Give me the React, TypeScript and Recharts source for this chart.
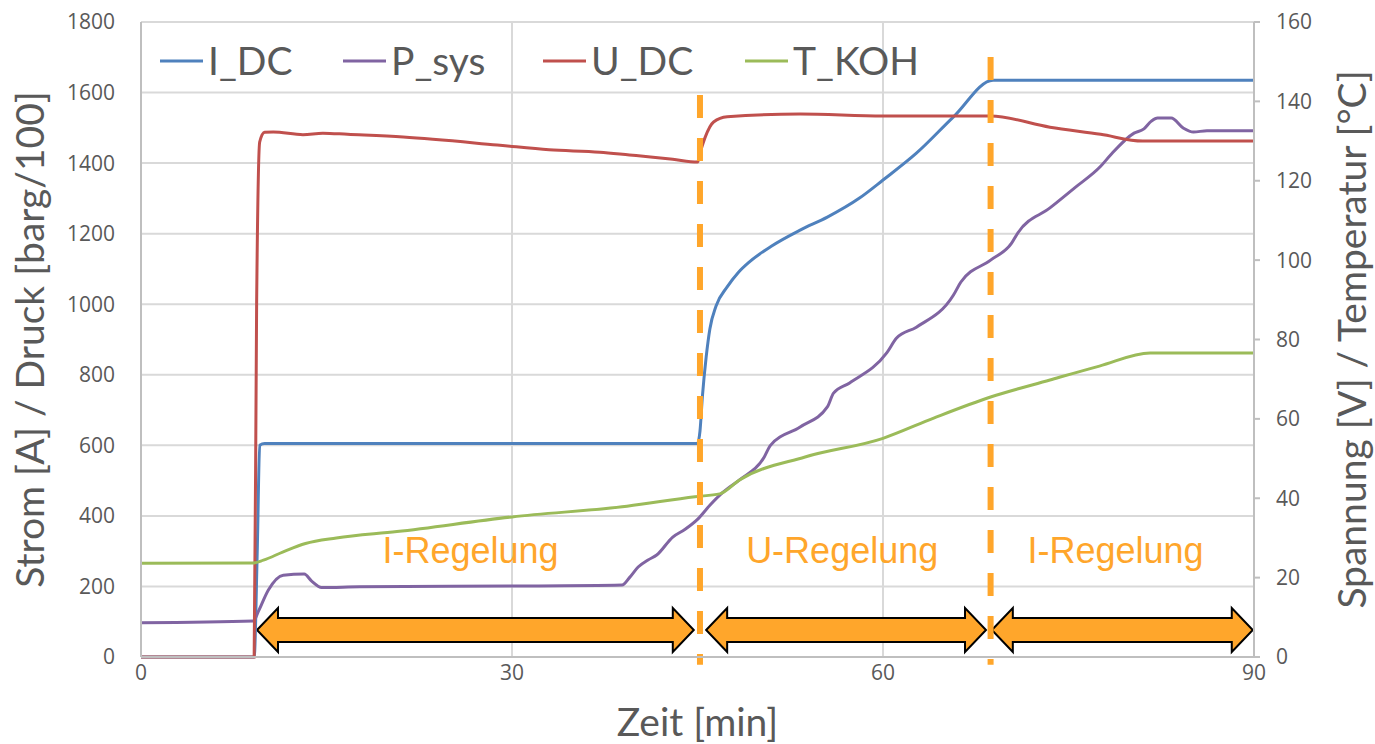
import React from 'react'
import {
  ComposedChart,
  Line,
  XAxis,
  YAxis,
  CartesianGrid,
  Legend,
  ReferenceLine,
  ReferenceArea,
  ReferenceDot
} from 'recharts'

// I_DC [A]
const iDcTime = [0, 9.15, 9.4, 9.6, 10, 45.0, 45.2, 45.4, 45.7, 46.0, 46.5, 47.4, 48.3, 49.2, 51, 53.3, 55.5, 58.1, 60, 62.7, 65.7, 68.9, 90]
const iDcValue = [0, 0, 300, 600, 605, 605, 640, 740, 850, 930, 995, 1049, 1090, 1120, 1165, 1210, 1247, 1301, 1352, 1428, 1531, 1635, 1635]

// P_sys [barg/100]
const pSysTime = [0, 9.1, 9.5, 10.3, 11.5, 13.2, 13.8, 14.6, 17.7, 30, 38.9, 39.5, 40.2, 41.0, 41.7, 43.0, 44.0, 45.0, 46.0, 47.0, 48.4, 50.4, 50.9, 53.3, 55.5, 56.0, 57.3, 60.3, 61.1, 62.7, 65.7, 66.3, 68.7, 70.4, 70.9, 73.5, 75.5, 77.6, 78.4, 80.3, 81.1, 81.7, 82.2, 83.3, 84.3, 85.1, 86.2, 90]
const pSysValue = [97, 102, 130, 190, 232, 235, 215, 197, 199, 201, 204, 225, 255, 275, 289, 340, 362, 390, 430, 465, 502, 567, 600, 652, 709, 748, 777, 862, 904, 935, 1026, 1063, 1125, 1173, 1202, 1273, 1330, 1391, 1423, 1485, 1497, 1519, 1528, 1528, 1499, 1488, 1492, 1492]

// U_DC [V]
const uDcTime = [0, 9.15, 9.35, 9.6, 10.0, 10.7, 13.1, 14.7, 16.7, 21.2, 28.8, 33, 37.1, 39.5, 41.2, 43.0, 45.0, 45.3, 45.6, 46.3, 47.4, 53.3, 60, 68.7, 73.5, 77.6, 81.0, 90]
const uDcValue = [0, 0, 88.9, 129.8, 132.2, 132.3, 131.6, 132.0, 131.7, 131.0, 129.0, 127.8, 127.2, 126.5, 126.0, 125.4, 124.7, 128.0, 130.8, 134.8, 136.1, 136.8, 136.3, 136.3, 133.5, 131.7, 130.0, 130.0]

// T_KOH [°C]
const tKohTime = [0, 9.1, 9.9, 11.5, 13.3, 15.8, 20.7, 30, 39.3, 44.8, 46.8, 48.4, 53.7, 60, 64.1, 68.7, 73.5, 77.5, 81.6, 90]
const tKohValue = [23.6, 23.7, 24.4, 26.5, 28.6, 30.0, 31.6, 35.3, 38.0, 40.4, 41.1, 44.6, 50.4, 55.1, 60.2, 65.5, 69.8, 73.3, 76.6, 76.6]

const xTicks = [0, 30, 60, 90]
const leftTicks = [0, 200, 400, 600, 800, 1000, 1200, 1400, 1600, 1800]
const rightTicks = [0, 20, 40, 60, 80, 100, 120, 140, 160]

// Regelungsphasen
const phaseBoundaries = [45.2, 68.7]
const phaseBoundaryTops = [1593, 1701]
const phaseLabels = ['I-Regelung', 'U-Regelung', 'I-Regelung']
const phaseLabelCenters = [26.65, 56.7, 78.8]
const phaseStarts = [9.38, 45.7, 68.8]
const phaseEnds = [44.7, 68.33, 89.9]

const seriesNames = ['I_DC', 'P_sys', 'U_DC', 'T_KOH']
const seriesColors = ['#4F81BD', '#8064A2', '#C0504D', '#9BBB59']

const zip = (t: number[], v: number[]) => t.map((x, i) => ({ t: x, v: v[i] }))

const iDcData = zip(iDcTime, iDcValue)
const pSysData = zip(pSysTime, pSysValue)
const uDcData = zip(uDcTime, uDcValue)
const tKohData = zip(tKohTime, tKohValue)

const ORANGE = '#FFA62B'
const GRAY_TEXT = '#595959'
const AXIS_GRAY = '#BFBFBF'
const GRID_GRAY = '#D9D9D9'

const tickStyle = { fontFamily: '"Open Sans", sans-serif', fontSize: 21, fill: GRAY_TEXT }
const titleStyle = { fontFamily: 'Lato, sans-serif', fontSize: 39, fill: GRAY_TEXT, textAnchor: 'middle' as const }

const legendOffsets = [0, 183, 383, 585]

// legend sits inside the plot, so its wrapper is kept at zero height (no offset taken from the plot)
const renderLegend = (props: any) => {
  const payload = (props.payload || []).slice().sort(
    (a: any, b: any) => seriesNames.indexOf(a.value) - seriesNames.indexOf(b.value)
  )
  return (
    <div style={{ position: 'relative', height: 0 }}>
      <svg width={800} height={60} style={{ position: 'absolute', left: 0, top: 0, overflow: 'visible' }}>
        {payload.map((entry: any, i: number) => (
          <g key={entry.value} transform={`translate(${legendOffsets[i]},0)`}>
            <line x1={0} x2={43} y1={31} y2={31} stroke={entry.color} strokeWidth={3} />
            <text x={48} y={45} fontFamily="Lato, sans-serif" fontSize={39} fill={GRAY_TEXT}>
              {entry.value}
            </text>
          </g>
        ))}
      </svg>
    </div>
  )
}

// double-headed block arrow
const DoubleArrow = (props: any) => {
  const { x, y, width, height } = props
  const hl = 21
  const cy = y + height / 2
  const sh = height * 0.27
  const pts = [
    [x, cy],
    [x + hl, y],
    [x + hl, cy - sh],
    [x + width - hl, cy - sh],
    [x + width - hl, y],
    [x + width, cy],
    [x + width - hl, y + height],
    [x + width - hl, cy + sh],
    [x + hl, cy + sh],
    [x + hl, y + height]
  ]
    .map((p) => p.join(','))
    .join(' ')
  return <polygon points={pts} fill={ORANGE} stroke="#000" strokeWidth={2} strokeLinejoin="miter" />
}

export default function App() {
  return (
    <div style={{ position: 'absolute', left: 0, top: 0, width: 1375, height: 744, background: '#fff' }}>
      <ComposedChart width={1375} height={744} margin={{ top: 22, right: 0, bottom: 0, left: 0 }}>
        <CartesianGrid yAxisId="left" stroke={GRID_GRAY} strokeWidth={2} />
        <XAxis
          dataKey="t"
          type="number"
          domain={[0, 90]}
          ticks={xTicks}
          height={87}
          tickLine={false}
          tickSize={0}
          tickMargin={8}
          stroke={AXIS_GRAY}
          strokeWidth={2}
          tick={tickStyle}
          allowDataOverflow
          label={{ value: 'Zeit [min]', position: 'insideBottom', offset: 8, style: titleStyle }}
        />
        <YAxis
          yAxisId="left"
          domain={[0, 1800]}
          ticks={leftTicks}
          width={141}
          tickLine={false}
          tickSize={0}
          tickMargin={26}
          stroke={AXIS_GRAY}
          strokeWidth={2}
          tick={tickStyle}
          label={{
            value: 'Strom [A] / Druck [barg/100]',
            angle: -90,
            position: 'insideLeft',
            offset: 30,
            style: titleStyle
          }}
        />
        <YAxis
          yAxisId="right"
          orientation="right"
          domain={[0, 160]}
          ticks={rightTicks}
          width={121}
          tickSize={6}
          tickMargin={16}
          stroke={AXIS_GRAY}
          strokeWidth={2}
          tick={tickStyle}
          label={{
            value: 'Spannung [V] / Temperatur [°C]',
            angle: -90,
            position: 'insideRight',
            offset: 23,
            style: titleStyle
          }}
        />
        <Legend
          content={renderLegend}
          layout="horizontal"
          verticalAlign="top"
          align="left"
          wrapperStyle={{ top: 30, left: 160, width: 800, height: 0 }}
        />

        <Line yAxisId="left" data={iDcData} dataKey="v" name={seriesNames[0]} type="monotone" stroke={seriesColors[0]} strokeWidth={3} dot={false} isAnimationActive={false} />
        <Line yAxisId="left" data={pSysData} dataKey="v" name={seriesNames[1]} type="monotone" stroke={seriesColors[1]} strokeWidth={3} dot={false} isAnimationActive={false} />
        <Line yAxisId="right" data={uDcData} dataKey="v" name={seriesNames[2]} type="monotone" stroke={seriesColors[2]} strokeWidth={3} dot={false} isAnimationActive={false} />
        <Line yAxisId="right" data={tKohData} dataKey="v" name={seriesNames[3]} type="monotone" stroke={seriesColors[3]} strokeWidth={3} dot={false} isAnimationActive={false} />

        {phaseBoundaries.map((b, i) => (
          <ReferenceLine
            key={`b${i}`}
            yAxisId="left"
            segment={[{ x: b, y: phaseBoundaryTops[i] }, { x: b, y: -22 }]}
            stroke={ORANGE}
            strokeWidth={6}
            strokeDasharray="23 20"
            ifOverflow="visible"
          />
        ))}

        {phaseStarts.map((s, i) => (
          <ReferenceArea
            key={`a${i}`}
            yAxisId="left"
            x1={s}
            x2={phaseEnds[i]}
            y1={14}
            y2={139}
            ifOverflow="visible"
            shape={<DoubleArrow />}
          />
        ))}

        {phaseLabels.map((label, i) => (
          <ReferenceDot
            key={`l${i}`}
            yAxisId="left"
            x={phaseLabelCenters[i]}
            y={303}
            r={0}
            fill="none"
            stroke="none"
            ifOverflow="visible"
            label={{
              value: label,
              position: 'center',
              style: { fontFamily: '"Liberation Sans", Arial, sans-serif', fontSize: 36, fill: ORANGE }
            }}
          />
        ))}
      </ComposedChart>
    </div>
  )
}
